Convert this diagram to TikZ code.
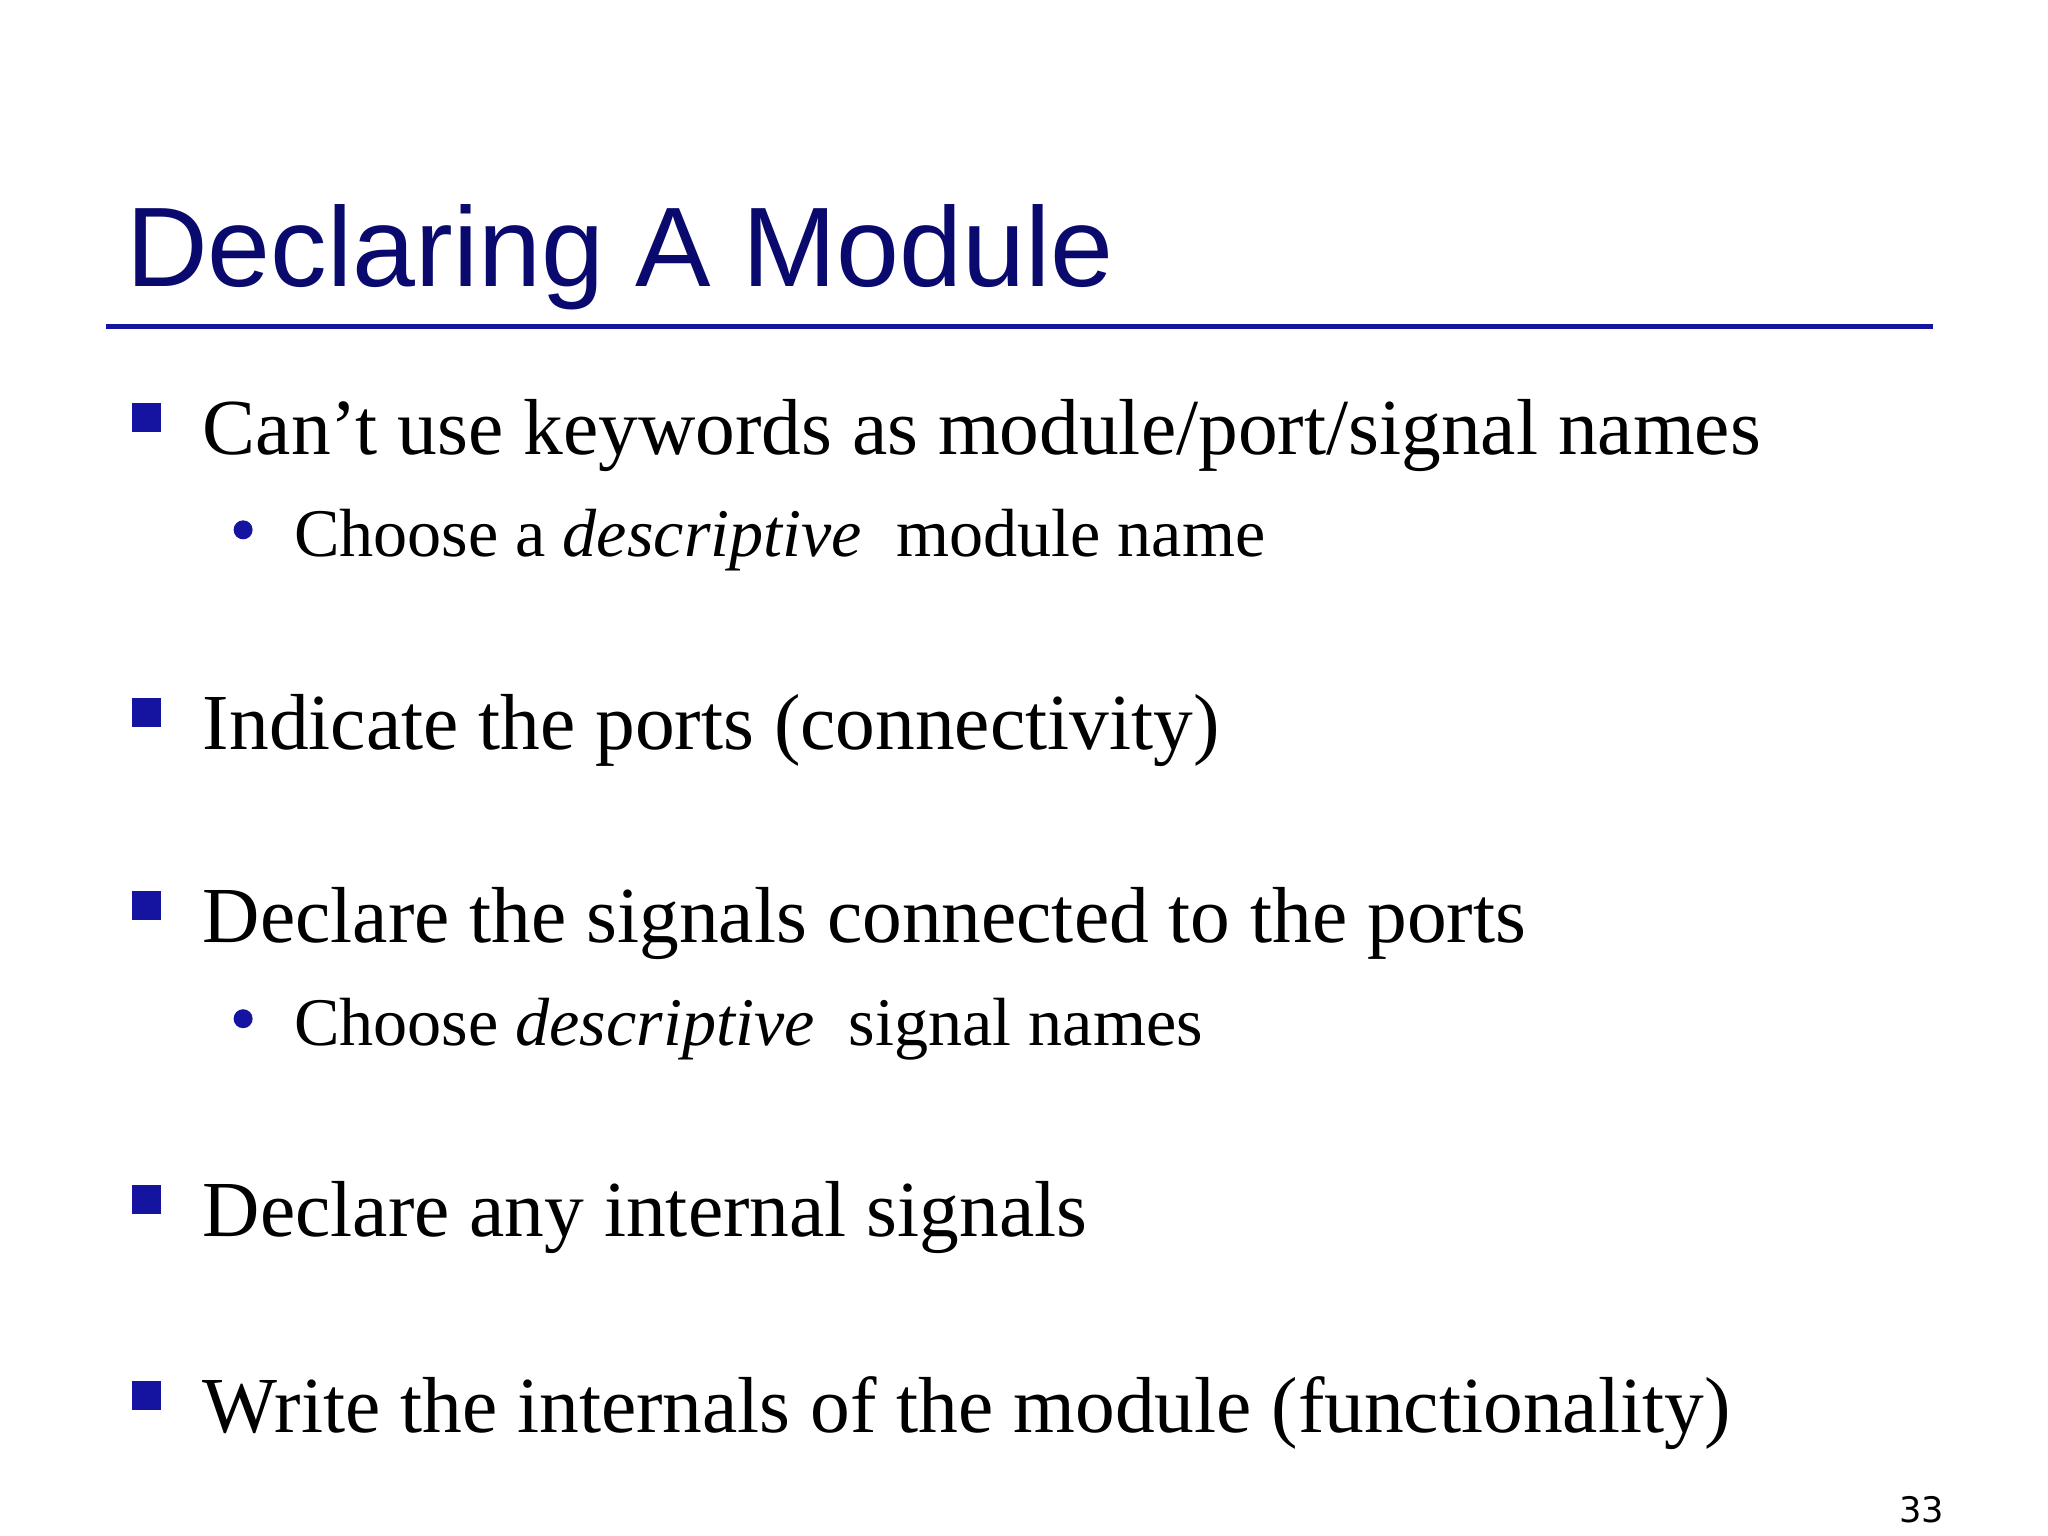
\documentclass[tikz,border=0pt]{standalone}
\usepackage{fontspec}
\setmainfont{Liberation Serif}
\newfontfamily\titlefont{Liberation Sans}
\newfontfamily\numfont{DejaVu Sans}
\definecolor{navy}{RGB}{10,10,110}
\definecolor{bul}{RGB}{20,20,160}
\begin{document}
\begin{tikzpicture}[x=0.013213cm,y=-0.013213cm,
  main/.style={anchor=base west,inner sep=0pt,font=\fontsize{22.6}{27}\selectfont},
  sub/.style={anchor=base west,inner sep=0pt,font=\fontsize{19.4}{23}\selectfont},
  sq/.style={fill=bul,draw=none,minimum size=0.29cm,inner sep=0pt},
  dot/.style={circle,fill=bul,draw=none,minimum size=0.19cm,inner sep=0pt}]
\useasboundingbox (0,0) rectangle (1550,1162.5);
\node[anchor=base west,inner sep=0pt,text=navy,font=\titlefont\fontsize{32.2}{38}\selectfont] (title) at (95,217) {Declaring A Module};
\coordinate (l1) at (80,247); \coordinate (l2) at (1463,247);
\draw[bul,line width=1.3pt] (l1) -- (l2);
\node[sq] (b1) at (111,316) {};
\node[main] (t1) at (153,344) {Can’t use keywords as module/port/signal names};
\node[dot] (d1) at (184,401) {};
\node[sub] (s1) at (222,421) {Choose a \textit{descriptive}\ \ module name};
\node[sq] (b2) at (111,539) {};
\node[main] (t2) at (153,567) {Indicate the ports (connectivity)};
\node[sq] (b3) at (111,685) {};
\node[main] (t3) at (153,713) {Declare the signals connected to the ports};
\node[dot] (d2) at (184,771) {};
\node[sub] (s2) at (222,791) {Choose \textit{descriptive}\ \ signal names};
\node[sq] (b4) at (111,908) {};
\node[main] (t4) at (153,936) {Declare any internal signals};
\node[sq] (b5) at (111,1056) {};
\node[main] (t5) at (153,1084) {Write the internals of the module (functionality)};
\node[anchor=base east,inner sep=0pt,font=\numfont\fontsize{10}{12}\selectfont] (num) at (1472,1152) {33};
\end{tikzpicture}
\end{document}
